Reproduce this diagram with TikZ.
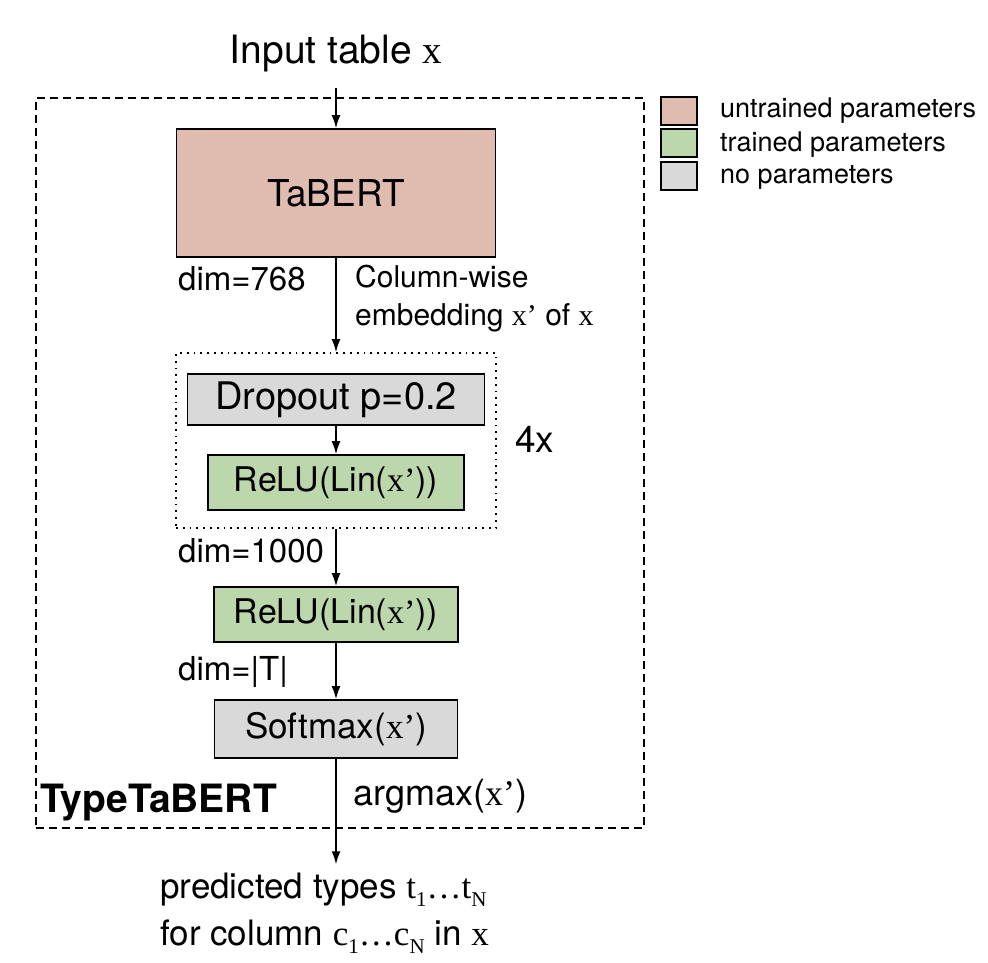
\documentclass[tikz,border=0pt]{standalone}
\usepackage{fontspec}
\setmainfont{TeX Gyre Heros}
\newfontfamily\tms{Liberation Serif}
\usetikzlibrary{arrows.meta}
\newcommand{\fsz}[1]{\fontsize{#1}{#1}\selectfont}
\newcommand{\sbs}[1]{\raisebox{-0.25em}{\scalebox{0.6}{#1}}}
\definecolor{pinkc}{RGB}{223,187,176}
\definecolor{greenc}{RGB}{189,215,173}
\definecolor{grayc}{RGB}{217,217,217}
\begin{document}
\begin{tikzpicture}[x=1pt,y=-1pt,
  box/.style={draw, line width=1.8pt, inner sep=0pt},
  arr/.style={-{Latex[length=13pt,width=9pt]}, line width=1.5pt},
  lbl/.style={anchor=base west, inner sep=0pt}]
\useasboundingbox (0,0) rectangle (988,962);

% outer containers
\node[draw, line width=1.6pt, dash pattern=on 8pt off 5pt, minimum width=608pt, minimum height=730pt, inner sep=0pt] (outer) at (340,463) {};
\node[draw, line width=1.8pt, dash pattern=on 1.8pt off 5pt, minimum width=320pt, minimum height=175pt, inner sep=0pt] (loop) at (336,440.5) {};

% input
\node[anchor=base, inner sep=0pt, font=\fsz{39}] (input) at (336,63) {Input table {\tms x}};

% boxes
\node[box, fill=pinkc, minimum width=319pt, minimum height=128pt, font=\fsz{37}] (tabert) at (336,193) {TaBERT};
\node[box, fill=grayc, minimum width=297pt, minimum height=51pt, font=\fsz{38}] (drop) at (336,399.5) {Dropout p=0.2};
\node[box, fill=greenc, minimum width=256pt, minimum height=55pt, font=\fsz{34}] (relu1) at (336,482.5) {ReLU(Lin({\tms x’}))};
\node[box, fill=greenc, minimum width=244pt, minimum height=55pt, font=\fsz{34}] (relu2) at (336,614.5) {ReLU(Lin({\tms x’}))};
\node[box, fill=grayc, minimum width=243pt, minimum height=58pt, font=\fsz{35}] (soft) at (336,729) {Softmax({\tms x’})};

% labels
\node[lbl, font=\fsz{33}] (d768) at (178,290) {dim=768};
\node[lbl, font=\fsz{30}] (cw1) at (355,287) {Column-wise};
\node[lbl, font=\fsz{30}] (cw2) at (355,325) {embedding {\tms x’} of {\tms x}};
\node[lbl, font=\fsz{37}] (four) at (515,452) {4x};
\node[lbl, font=\fsz{33}] (d1000) at (178,562) {dim=1000};
\node[lbl, font=\fsz{33}] (dT) at (178,680) {dim=|T|};
\node[lbl, font=\bfseries\fsz{39}] (name) at (40,812) {TypeTaBERT};
\node[lbl, font=\fsz{36}] (amax) at (353,805) {argmax({\tms x’})};

% output
\node[lbl, font=\fsz{35}] (out1) at (160,898) {predicted types {\tms t\sbs{1}…t\sbs{N}}};
\node[lbl, font=\fsz{35}] (out2) at (160,945) {for column {\tms c\sbs{1}…c\sbs{N}} in {\tms x}};

% arrows
\draw[arr] ([yshift=-16pt]input.south) -- (tabert.north);
\draw[arr] (tabert.south) -- (loop.north);
\draw[arr] (drop.south) -- (relu1.north);
\draw[arr] (loop.south) -- (relu2.north);
\draw[arr] (relu2.south) -- (soft.north);
\draw[arr] (soft.south) -- ([yshift=8pt]soft.south |- out1.north);

% legend
\node[box, line width=1.6pt, fill=pinkc, minimum width=36pt, minimum height=28pt] (lg1) at (679,111) {};
\node[box, line width=1.6pt, fill=greenc, minimum width=36pt, minimum height=28pt] (lg2) at (679,143) {};
\node[box, line width=1.6pt, fill=grayc, minimum width=36pt, minimum height=28pt] (lg3) at (679,176) {};
\node[lbl, font=\fsz{27}] (lt1) at (720,117) {untrained parameters};
\node[lbl, font=\fsz{27}] (lt2) at (720,151) {trained parameters};
\node[lbl, font=\fsz{27}] (lt3) at (720,183) {no parameters};
\end{tikzpicture}
\end{document}
